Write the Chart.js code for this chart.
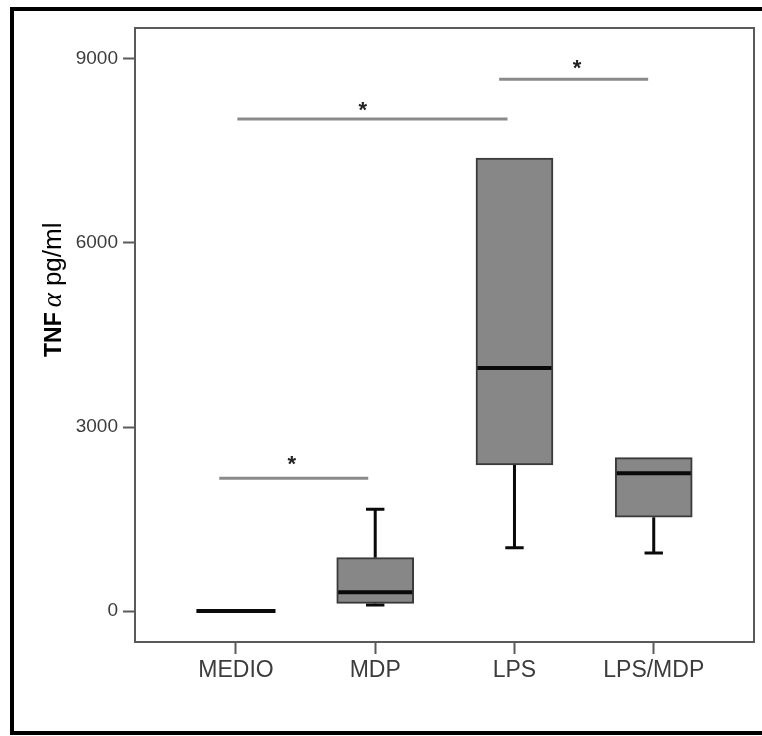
<!DOCTYPE html>
<html>
<head>
<meta charset="utf-8">
<script src="https://cdn.jsdelivr.net/npm/chart.js@4.4.1/dist/chart.umd.min.js"></script>
<style>
  body { margin: 0; background: #fff; }
  #wrap { width: 762px; height: 736px; }
</style>
</head>
<body>
<div id="wrap"><canvas id="tnfChart" width="762" height="736"></canvas></div>
<script>
  // groups and box statistics (pg/ml)
  var groups   = ["MEDIO", "MDP", "LPS", "LPS/MDP"];
  var whiskLo  = [0, 98, 1030, 945];
  var quart1   = [0, 125, 2380, 1530];
  var medians  = [0, 305, 3960, 2245];
  var quart3   = [0, 870, 7385, 2500];
  var whiskHi  = [0, 1660, 7385, 2500];
  var yTicks   = [0, 3000, 6000, 9000];

  // significance bars: from group, to group, level, star position
  var sigFrom  = [-0.12, 0.01, 1.89];
  var sigTo    = [0.95, 1.95, 2.96];
  var sigLevel = [2165, 8020, 8670];
  var starX    = [0.40, 0.91, 2.45];
  var starY    = [2450, 8220, 8900];

  var halfBox = 0.276, halfCap = 0.066;

  function gap(x) { return {x: x, y: null}; }

  var whiskerPts = [];
  var medianPts = [];
  for (var i = 0; i < groups.length; i++) {
    if (whiskHi[i] > quart3[i]) {
      whiskerPts.push({x: i, y: quart3[i]}, {x: i, y: whiskHi[i]}, gap(i));
      whiskerPts.push({x: i - halfCap, y: whiskHi[i]}, {x: i + halfCap, y: whiskHi[i]}, gap(i));
    }
    if (whiskLo[i] < quart1[i]) {
      whiskerPts.push({x: i, y: quart1[i]}, {x: i, y: whiskLo[i]}, gap(i));
      whiskerPts.push({x: i - halfCap, y: whiskLo[i]}, {x: i + halfCap, y: whiskLo[i]}, gap(i));
    }
    var hw = (quart3[i] == quart1[i]) ? 0.284 : halfBox - 0.01;
    medianPts.push({x: i - hw, y: medians[i]}, {x: i + hw, y: medians[i]}, gap(i));
  }

  var sigPts = [];
  for (var k = 0; k < sigFrom.length; k++) {
    sigPts.push({x: sigFrom[k], y: sigLevel[k]}, {x: sigTo[k], y: sigLevel[k]}, gap(sigTo[k]));
  }

  var boxPts = groups.map(function (g, i) { return {x: i, y: [quart1[i], quart3[i]]}; });

  // white page, black outer frame, plot frame, rotated axis title and stars
  var decorations = {
    id: 'decorations',
    beforeDraw: function (chart) {
      var ctx = chart.ctx;
      ctx.save();
      ctx.fillStyle = '#fff';
      ctx.fillRect(0, 0, chart.width, chart.height);
      ctx.restore();
    },
    afterDraw: function (chart) {
      var ctx = chart.ctx, a = chart.chartArea;
      var xs = chart.scales.x, ys = chart.scales.y;
      ctx.save();
      ctx.strokeStyle = '#000';
      ctx.lineWidth = 4;
      ctx.strokeRect(12, 9, 800, 724);

      ctx.strokeStyle = '#5a5a5a';
      ctx.lineWidth = 2;
      ctx.beginPath();
      ctx.moveTo(a.left, a.top);
      ctx.lineTo(a.right, a.top);
      ctx.lineTo(a.right, a.bottom);
      ctx.stroke();

      ctx.fillStyle = '#222';
      ctx.font = 'bold 22px "Liberation Sans"';
      ctx.textAlign = 'center';
      ctx.textBaseline = 'middle';
      for (var k = 0; k < starX.length; k++) {
        ctx.fillText('*', xs.getPixelForValue(starX[k]), ys.getPixelForValue(starY[k]) + 4);
      }

      ctx.translate(61, 357);
      ctx.rotate(-Math.PI / 2);
      ctx.textAlign = 'left';
      ctx.textBaseline = 'alphabetic';
      ctx.fillStyle = '#000';
      var px = 0;
      ctx.font = 'bold 23px "Liberation Sans"';
      ctx.fillText('TNF', px, 0);
      px += ctx.measureText('TNF').width + 5;
      ctx.font = 'italic 27px "Liberation Serif"';
      ctx.fillText('α', px, 0);
      px += ctx.measureText('α').width + 7;
      ctx.font = '26px "Liberation Sans"';
      ctx.fillText('pg/ml', px, 0);
      ctx.restore();
    }
  };

  new Chart(document.getElementById('tnfChart'), {
    type: 'bar',
    data: {
      datasets: [{
        type: 'line',
        data: whiskerPts,
        borderColor: '#0a0a0a',
        borderWidth: 3,
        pointRadius: 0,
        spanGaps: false,
        order: 4
      }, {
        type: 'bar',
        data: boxPts,
        backgroundColor: '#878787',
        borderColor: '#3a3a3a',
        borderWidth: 2,
        borderSkipped: false,
        barThickness: 77,
        order: 3
      }, {
        type: 'line',
        data: medianPts,
        borderColor: '#0a0a0a',
        borderWidth: 4,
        pointRadius: 0,
        spanGaps: false,
        order: 2
      }, {
        type: 'line',
        data: sigPts,
        borderColor: '#8a8a8a',
        borderWidth: 3,
        pointRadius: 0,
        spanGaps: false,
        order: 1
      }]
    },
    options: {
      responsive: false,
      animation: false,
      layout: { padding: { top: 28, right: 8, left: 0, bottom: 0 } },
      plugins: { legend: { display: false }, tooltip: { enabled: false } },
      scales: {
        x: {
          type: 'linear',
          min: -0.725,
          max: 3.72,
          offset: false,
          afterBuildTicks: function (scale) {
            scale.ticks = groups.map(function (g, i) { return {value: i}; });
          },
          afterFit: function (scale) { scale.height = 94; },
          grid: { offset: false, drawOnChartArea: false, drawTicks: true, tickLength: 12, tickColor: '#5a5a5a', tickWidth: 2 },
          border: { display: true, color: '#5a5a5a', width: 2 },
          ticks: {
            padding: 3,
            color: '#3c3c3c',
            font: { family: 'Liberation Sans', size: 23 },
            maxRotation: 0,
            callback: function (v) { return groups[v]; }
          }
        },
        y: {
          min: -505,
          max: 9505,
          afterBuildTicks: function (scale) {
            scale.ticks = yTicks.map(function (v) { return {value: v}; });
          },
          afterFit: function (scale) { scale.width = 135; },
          grid: { drawOnChartArea: false, drawTicks: true, tickLength: 12, tickColor: '#5a5a5a', tickWidth: 2 },
          border: { display: true, color: '#5a5a5a', width: 2 },
          ticks: {
            padding: 5,
            color: '#3c3c3c',
            font: { family: 'Liberation Sans', size: 19 },
            callback: function (v) { return String(v); }
          }
        }
      }
    },
    plugins: [decorations]
  });
</script>
</body>
</html>
